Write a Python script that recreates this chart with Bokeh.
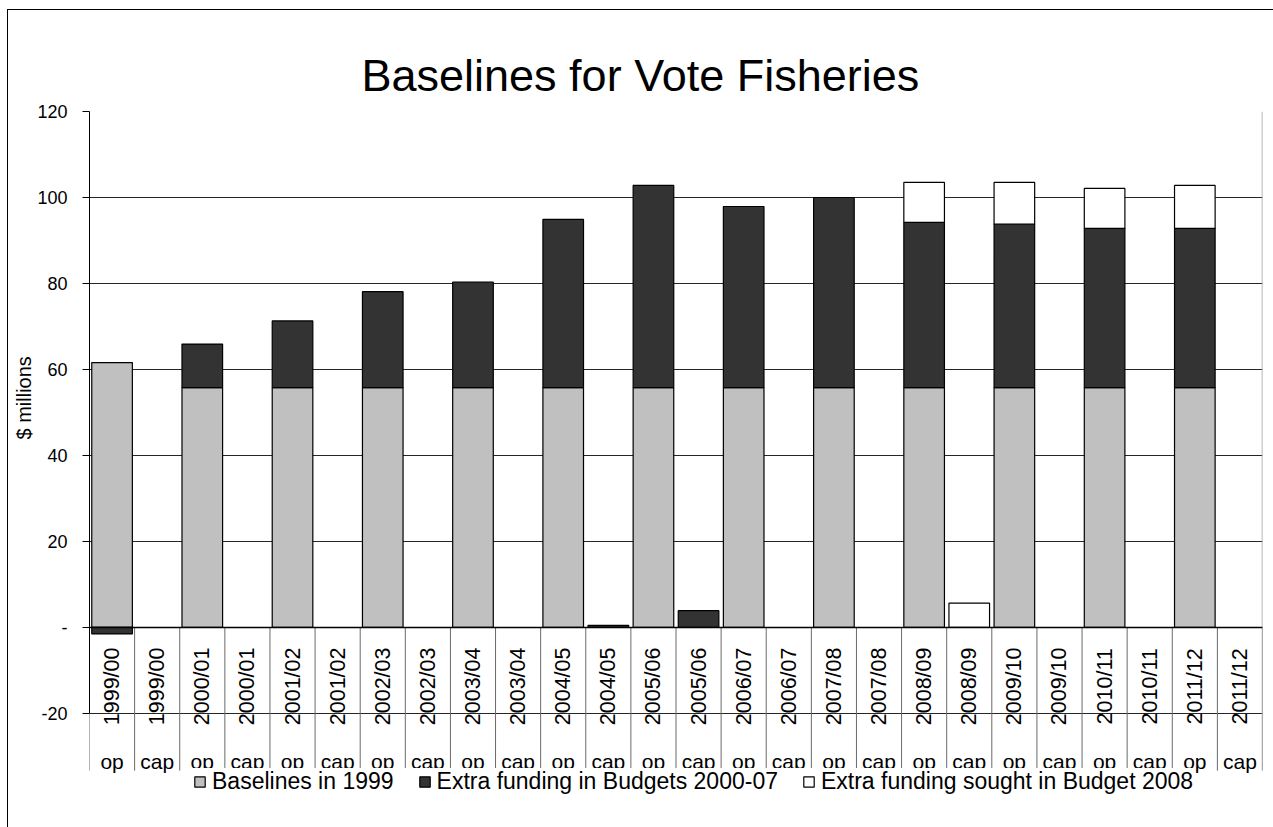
import numpy as np
from bokeh.plotting import figure
from bokeh.models import (Range1d, FixedTicker, ColumnDataSource, Legend, LegendItem, Span, Title)
from bokeh.core.properties import value
from bokeh.embed import file_html
from bokeh.resources import INLINE

# ---------------- data ----------------
years = ["1999/00", "2000/01", "2001/02", "2002/03", "2003/04", "2004/05", "2005/06",
         "2006/07", "2007/08", "2008/09", "2009/10", "2010/11", "2011/12"]
kinds = ["op", "cap"]

# one value per column: (year, op), (year, cap), ...
baselines_1999 = [61.6, 0.0, 55.8, 0.0, 55.8, 0.0, 55.8, 0.0, 55.8, 0.0, 55.8, 0.0, 55.8, 0.0,
                  55.8, 0.0, 55.8, 0.0, 55.8, 0.0, 55.8, 0.0, 55.8, 0.0, 55.8, 0.0]
extra_2000_07 = [-1.5, 0.0, 10.1, 0.0, 15.5, 0.0, 22.3, 0.0, 24.5, 0.0, 39.1, 0.5, 47.0, 3.9,
                 42.1, 0.0, 44.2, 0.0, 38.4, 0.0, 38.0, 0.0, 37.0, 0.0, 37.0, 0.0]
sought_2008 = [0.0, 0.0, 0.0, 0.0, 0.0, 0.0, 0.0, 0.0, 0.0, 0.0, 0.0, 0.0, 0.0, 0.0,
               0.0, 0.0, 0.0, 0.0, 9.3, 5.65, 9.7, 0.0, 9.3, 0.0, 10.0, 0.0]

series_names = ["Baselines in 1999", "Extra funding in Budgets 2000-07",
                "Extra funding sought in Budget 2008"]
series_values = [baselines_1999, extra_2000_07, sought_2008]
series_colors = ["#c0c0c0", "#333333", "#ffffff"]

y_ticks = [-20, 0, 20, 40, 60, 80, 100, 120]
y_tick_labels = ["-20", "-", "20", "40", "60", "80", "100", "120"]

title_text = "Baselines for Vote Fisheries"
y_title = "$ millions"

# ---------------- layout constants ----------------
FONT = "Liberation Sans"
n_cols = len(years) * len(kinds)
y_min = -44.9
label_bottom = -33.3
year_label_y = -13.7
kind_label_y = -31.2

p = figure(width=1266, height=818, output_backend="svg", toolbar_location=None,
           x_range=Range1d(0, n_cols), y_range=Range1d(y_min, 120),
           x_axis_location=None,
           min_border_left=81, min_border_right=12, min_border_top=101, min_border_bottom=8,
           margin=(9, 0, 0, 7),
           styles={"border-top": "1px solid #000", "border-left": "1px solid #000"},
           background_fill_color="white", border_fill_color="white",
           outline_line_color=None)

# title
p.title.text = title_text
p.title.align = "left"
p.title.offset = 272
p.title.standoff = 22
p.title.text_font = FONT
p.title.text_font_size = "45px"
p.title.text_font_style = "normal"
p.title.text_color = "black"

# y axis
ax = p.yaxis[0]
ax.ticker = FixedTicker(ticks=y_ticks)
ax.major_label_overrides = {t: l for t, l in zip(y_ticks, y_tick_labels)}
ax.bounds = (-20, 120)
ax.major_tick_out = 7
ax.major_tick_in = 0
ax.minor_tick_line_color = None
ax.axis_line_color = "black"
ax.major_tick_line_color = "black"
ax.major_label_text_font = FONT
ax.major_label_text_font_size = "18px"
ax.major_label_text_color = "black"
ax.major_label_standoff = 15

# y axis title, centred on the plot area rather than the whole frame
ytitle = Title(text=y_title, align="left", offset=381, standoff=0,
               text_font=FONT, text_font_size="20px", text_font_style="normal",
               text_color="black")
p.add_layout(ytitle, "left")

p.ygrid.grid_line_color = "#000000"
p.ygrid.grid_line_alpha = 0.85
p.ygrid.grid_line_width = 1
for g in p.xgrid:
    g.visible = False

# category separators and right plot-area edge
bounds = np.arange(n_cols + 1)
p.segment(x0=bounds, y0=np.zeros(n_cols + 1), x1=bounds,
          y1=np.full(n_cols + 1, label_bottom), line_color="#6a6a6a", line_width=1)
p.segment(x0=[n_cols], y0=[label_bottom], x1=[n_cols], y1=[120],
          line_color="#a0a0a0", line_width=1.5)

# stacked bars (negatives stack downward from zero, as in the original)
xc = np.arange(n_cols) + 0.5
pos = np.zeros(n_cols)
neg = np.zeros(n_cols)
renderers = []
for name, vals, col in zip(series_names, series_values, series_colors):
    v = np.array(vals, dtype=float)
    bottom = np.where(v >= 0, pos, neg)
    top = bottom + v
    pos = np.where(v >= 0, top, pos)
    neg = np.where(v < 0, top, neg)
    keep = v != 0
    src = ColumnDataSource(dict(x=xc[keep], top=top[keep], bottom=bottom[keep]))
    r = p.vbar(x="x", top="top", bottom="bottom", width=0.9, source=src,
               fill_color=col, line_color="black", line_width=1.2)
    renderers.append(r)

# zero line (category axis)
p.add_layout(Span(location=0, dimension="width", line_color="black", line_width=1.5))

# category labels (two levels)
year_col = [y for y in years for _ in kinds]
kind_col = [k for _ in years for k in kinds]
lab_src = ColumnDataSource(dict(x=xc, ys=np.full(n_cols, year_label_y),
                                yk=np.full(n_cols, kind_label_y),
                                year=year_col, kind=kind_col))
p.text(x="x", y="ys", text="year", source=lab_src, angle=np.pi / 2,
       text_align="center", text_baseline="middle", text_font=value(FONT),
       text_font_size="21.5px", text_color="black")
p.text(x="x", y="yk", text="kind", source=lab_src,
       text_align="center", text_baseline="alphabetic", text_font=value(FONT),
       text_font_size="21px", text_color="black")

# legend (its white box covers the lower edge of the op/cap row, as in the original)
legend = Legend(items=[LegendItem(label=n, renderers=[r]) for n, r in zip(series_names, renderers)],
                orientation="horizontal", location=(104, 25),
                label_text_font=FONT, label_text_font_size="23px", label_text_color="black",
                glyph_width=13, glyph_height=13, label_standoff=6, spacing=24,
                padding=8, margin=0, border_line_color=None,
                background_fill_color="white", background_fill_alpha=1.0)
p.add_layout(legend)

open("out.html", "w").write(file_html(p, INLINE))
